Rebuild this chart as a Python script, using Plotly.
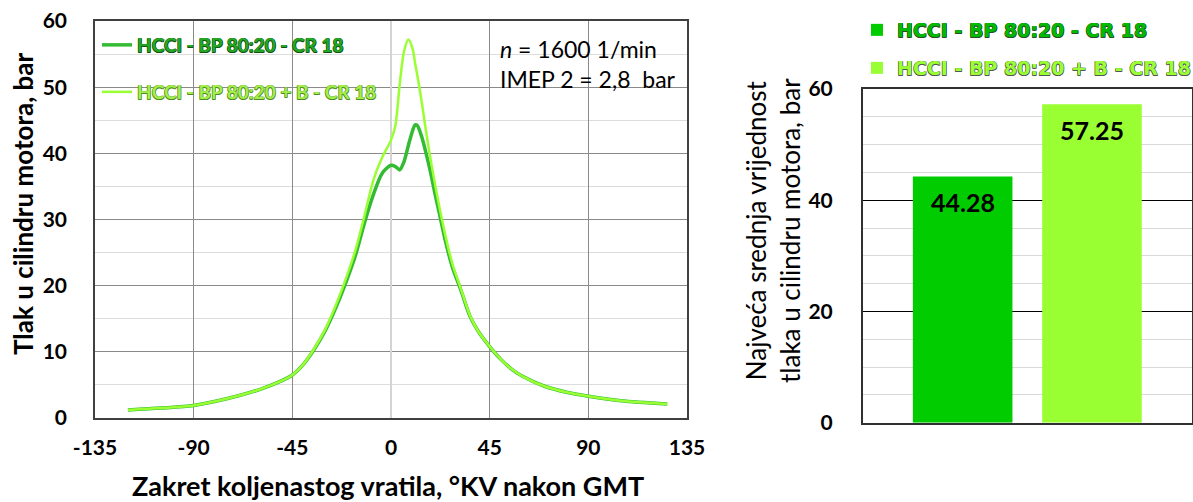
import plotly.graph_objects as go

# ---------------- data ----------------
angle = [-120, -105, -90, -75, -60, -50, -45, -40, -35, -30, -25, -20, -16, -12, -8, -4,
         0, 2, 4, 6, 8, 10, 11, 12, 14, 16, 18, 20, 22, 25, 28, 32, 36, 40, 45, 50, 55,
         60, 70, 80, 90, 105, 126]
p_bp = [1.2, 1.5, 1.9, 2.9, 4.3, 5.6, 6.5, 8.1, 10.4, 13.2, 16.8, 21.0, 24.8, 29.6, 33.8, 37.0,
        38.2, 38.0, 37.5, 38.8, 41.3, 43.6, 44.3, 44.2, 42.5, 40.0, 37.2, 34.0, 31.0, 26.5, 22.8,
        19.2, 15.4, 13.0, 10.8, 8.9, 7.4, 6.3, 4.8, 3.9, 3.3, 2.6, 2.1]
p_bp_b = [1.2, 1.5, 1.9, 2.9, 4.3, 5.6, 6.5, 8.1, 10.5, 13.4, 17.2, 21.6, 25.6, 30.7, 36.0, 39.4,
          42.0, 44.2, 50.5, 55.5, 57.2, 55.6, 53.6, 51.8, 47.8, 43.3, 39.2, 35.5, 32.0, 27.3, 23.3,
          19.4, 15.5, 13.0, 10.8, 8.9, 7.4, 6.3, 4.8, 3.9, 3.3, 2.6, 2.1]

series_names = ["HCCI - BP 80:20 - CR 18", "HCCI - BP 80:20 + B - CR 18"]
max_pressure = [44.28, 57.25]

x_tick_vals = [-135, -90, -45, 0, 45, 90, 135]
x_tick_text = ["-135", "-90", "-45", "0", "45", "90", "135"]
y_ticks_left = [0, 10, 20, 30, 40, 50, 60]
y_ticks_right = [0, 20, 40, 60]

# ---------------- styles ----------------
W, H = 1193, 502
FONT = "Lato"
line_colors = ["#33BB33", "#99FF33"]
bar_colors = ["#00CC00", "#99FF33"]


def outline(c, w=0.5):
    return ", ".join(f"{dx}px {dy}px 0 {c}" for dx, dy in
                     [(-w, -w), (w, -w), (-w, w), (w, w)])


fig = go.Figure()

# left: pressure traces
fig.add_trace(go.Scatter(x=angle, y=p_bp, mode="lines", name=series_names[0],
                         line=dict(color=line_colors[0], width=3.5, shape="spline", smoothing=0.8),
                         xaxis="x", yaxis="y", legend="legend"))
fig.add_trace(go.Scatter(x=angle, y=p_bp_b, mode="lines", name=series_names[1],
                         line=dict(color=line_colors[1], width=2.5, shape="spline", smoothing=0.8),
                         xaxis="x", yaxis="y", legend="legend2"))

# right: max pressure bars
for i in range(2):
    fig.add_trace(go.Bar(x=[i], y=[max_pressure[i]], name=series_names[i], width=0.77,
                         marker=dict(color=bar_colors[i], line=dict(width=0)),
                         xaxis="x2", yaxis="y2", legend=f"legend{i + 3}"))

tickfont = dict(family=FONT, size=21, color="black", weight=700)

bar_labels = [dict(text=f"{v:.2f}", x=i, y=v, xref="x2", yref="y2", showarrow=False,
                   yanchor="middle", yshift=-26,
                   font=dict(family=FONT, size=25, color="black", weight=700))
              for i, v in enumerate(max_pressure)]

fig.update_layout(
    width=W, height=H,
    margin=dict(l=0, r=0, t=0, b=0, autoexpand=False),
    paper_bgcolor="white", plot_bgcolor="white",
    barmode="overlay",
    showlegend=True,
    xaxis=dict(domain=[95 / W, 687 / W], range=[-135, 135], tickvals=x_tick_vals,
               ticktext=x_tick_text, tickfont=tickfont, showgrid=True, gridcolor="#8a8a8a",
               gridwidth=1, zeroline=True, zerolinecolor="#d4d4d4", zerolinewidth=1.5,
               showline=True, linecolor="#404040", linewidth=1.5, mirror=True,
               ticks="", ticklabelstandoff=10, anchor="y"),
    yaxis=dict(domain=[1 - 418 / H, 1 - 21 / H], range=[0, 60], tickvals=y_ticks_left,
               tickfont=tickfont, showgrid=True, gridcolor="#8a8a8a", gridwidth=1,
               minor=dict(dtick=5, showgrid=True, gridcolor="#dcdcdc", gridwidth=1),
               zeroline=False, showline=True, linecolor="#404040", linewidth=1.5, mirror=True,
               ticks="", ticklabelstandoff=22, anchor="x"),
    xaxis2=dict(domain=[862.7 / W, 0.999], range=[-0.773, 1.772], showticklabels=False,
                showgrid=False, zeroline=False, showline=True, linecolor="#303030",
                linewidth=1.5, mirror=True, ticks="", anchor="y2"),
    yaxis2=dict(domain=[1 - 422.7 / H, 1 - 89 / H], range=[0, 60], tickvals=y_ticks_right,
                tickfont=tickfont, showgrid=True, gridcolor="#000000", gridwidth=1.2,
                minor=dict(dtick=5, showgrid=True, gridcolor="#d9d9d9", gridwidth=1),
                zeroline=False, showline=True, linecolor="#303030", linewidth=1.5, mirror=True,
                ticks="", ticklabelstandoff=24, anchor="x2"),
    legend=dict(x=97 / W, y=1 - 45 / H, xanchor="left", yanchor="middle",
                bgcolor="rgba(0,0,0,0)",
                font=dict(family=FONT, size=19, weight=700, color="#22A822",
                          shadow=outline("#145214"))),
    legend2=dict(x=97 / W, y=1 - 92 / H, xanchor="left", yanchor="middle",
                 bgcolor="rgba(0,0,0,0)",
                 font=dict(family=FONT, size=19, weight=700, color="#A2EE4A",
                           shadow=outline("#4F8A22"))),
    legend3=dict(x=857 / W, y=1 - 30 / H, xanchor="left", yanchor="middle",
                 bgcolor="rgba(0,0,0,0)",
                 font=dict(family="DejaVu Sans", size=19, weight=700, color="#00BB00",
                           shadow=outline("#2a4a2a"))),
    legend4=dict(x=857 / W, y=1 - 68 / H, xanchor="left", yanchor="middle",
                 bgcolor="rgba(0,0,0,0)",
                 font=dict(family="DejaVu Sans", size=19, weight=700, color="#99FF33",
                           shadow=outline("#555555"))),
    annotations=[
        dict(text="Zakret koljenastog vratila, °KV nakon GMT", xref="paper", yref="paper",
             x=388 / W, y=1 - 485 / H, showarrow=False, xanchor="center", yanchor="middle",
             font=dict(family=FONT, size=27, weight=700, color="black")),
        dict(text="Tlak u cilindru motora, bar", xref="paper", yref="paper",
             x=23 / W, y=1 - 204 / H, showarrow=False, textangle=-90,
             xanchor="center", yanchor="middle",
             font=dict(family=FONT, size=26, weight=700, color="black")),
        dict(text="Najveća srednja vrijednost<br>tlaka u cilindru motora, bar",
             xref="paper", yref="paper", x=773 / W, y=1 - 231 / H, showarrow=False,
             textangle=-90, xanchor="center", yanchor="middle",
             font=dict(family=FONT, size=26, color="black")),
        dict(text="<i>n</i> = 1600 1/min<br>IMEP 2 = 2,8\u00a0 bar", xref="paper", yref="paper",
             x=498 / W, y=1 - 63.5 / H, showarrow=False, xanchor="left", yanchor="middle",
             align="left", font=dict(family=FONT, size=23, color="black")),
    ] + bar_labels,
)

fig.write_html("out.html", config={"displayModeBar": False},
               post_script="document.body.style.margin='0';document.body.style.padding='0';")
